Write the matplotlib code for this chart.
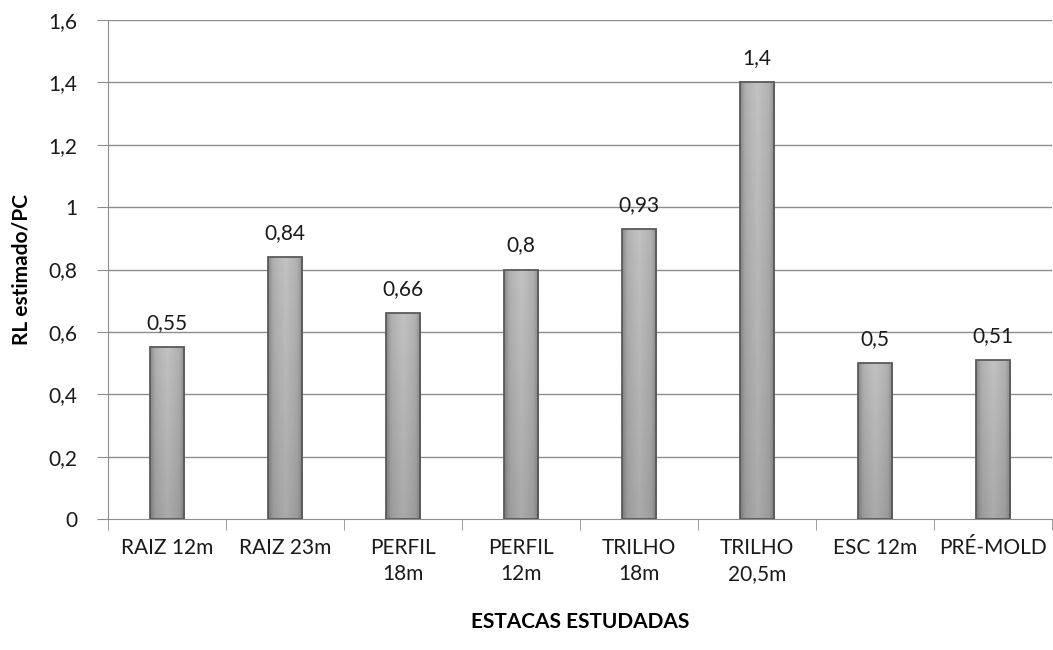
import numpy as np
import matplotlib.pyplot as plt
from matplotlib.colors import LinearSegmentedColormap

categories = ["RAIZ 12m", "RAIZ 23m", "PERFIL\n18m", "PERFIL\n12m", "TRILHO\n18m",
              "TRILHO\n20,5m", "ESC 12m", "PRÉ-MOLD"]
values = [0.55, 0.84, 0.66, 0.80, 0.93, 1.40, 0.50, 0.51]
labels = ["0,55", "0,84", "0,66", "0,8", "0,93", "1,4", "0,5", "0,51"]
yticks = [0, 0.2, 0.4, 0.6, 0.8, 1.0, 1.2, 1.4, 1.6]
ytick_labels = ["0", "0,2", "0,4", "0,6", "0,8", "1", "1,2", "1,4", "1,6"]

plt.rcParams['font.family'] = ['Lato', 'DejaVu Sans']
fs = 15

fig = plt.figure(figsize=(10.53, 6.5), dpi=100)
ax = fig.add_axes([108 / 1053, 131 / 650, 944 / 1053, 499 / 650])

x = np.arange(len(categories))
ax.set_xlim(-0.5, len(categories) - 0.5)
ax.set_ylim(0, 1.6)

# grid
for t in yticks[1:]:
    ax.axhline(t, color="#8e8e8e", lw=1, zorder=0)

# gradient for bars: lighter centre, darker edges
cmap = LinearSegmentedColormap.from_list(
    "g", [(0, "#8a8a8a"), (0.15, "#b0b0b0"), (0.5, "#c2c2c2"), (0.85, "#b0b0b0"), (1, "#8a8a8a")])
grad = np.tile(np.linspace(0, 1, 64), (64, 1))
# slight darkening towards the bottom (imshow row 0 = top)
bottom_shade = np.linspace(0, 0.12, 64).reshape(-1, 1) * np.ones((1, 2))

width = 0.29
bars = ax.bar(x, values, width=width, color="#b0b0b0", edgecolor="none", zorder=2)
for b in bars:
    x0, y0 = b.get_x(), b.get_y()
    w, h = b.get_width(), b.get_height()
    im = ax.imshow(grad, cmap=cmap, extent=[x0, x0 + w, y0, y0 + h], aspect="auto",
                   zorder=2.5, interpolation="bicubic")
    im.set_clip_path(b)
    im2 = ax.imshow(np.ones((64, 2)), cmap="gray_r", vmin=0, vmax=1,
                    extent=[x0, x0 + w, y0, y0 + h], aspect="auto", zorder=2.6)
    im2.set_alpha(bottom_shade)
    im2.set_clip_path(b)
    ax.bar(x0 + w / 2, h, width=w, fill=False, edgecolor="#5a5a5a", lw=1.3, zorder=3)

for xi, v, lab in zip(x, values, labels):
    ax.text(xi, v + 0.045, lab, ha="center", va="bottom", fontsize=fs, color="#1a1a1a")

ax.set_yticks(yticks)
ax.set_yticklabels(ytick_labels, fontsize=fs, color="#1a1a1a")
ax.set_xticks(x)
ax.set_xticklabels(categories, fontsize=fs, linespacing=1.35, color="#1a1a1a")
ax.set_xticks(np.arange(-0.5, len(categories)), minor=True)
ax.tick_params(axis="x", which="major", length=0, pad=14)
ax.tick_params(axis="x", which="minor", length=8, color="#8e8e8e")
ax.tick_params(axis="y", length=8, color="#8e8e8e", pad=14)

for s in ["top", "right"]:
    ax.spines[s].set_visible(False)
ax.spines["left"].set_color("#8e8e8e")
ax.spines["bottom"].set_color("#8e8e8e")

ax.set_ylabel("RL estimado/PC", fontsize=fs, fontweight="bold", labelpad=12)
ax.set_xlabel("ESTACAS ESTUDADAS", fontsize=fs, fontweight="bold", labelpad=20)

fig.savefig("out.png", dpi=100)
